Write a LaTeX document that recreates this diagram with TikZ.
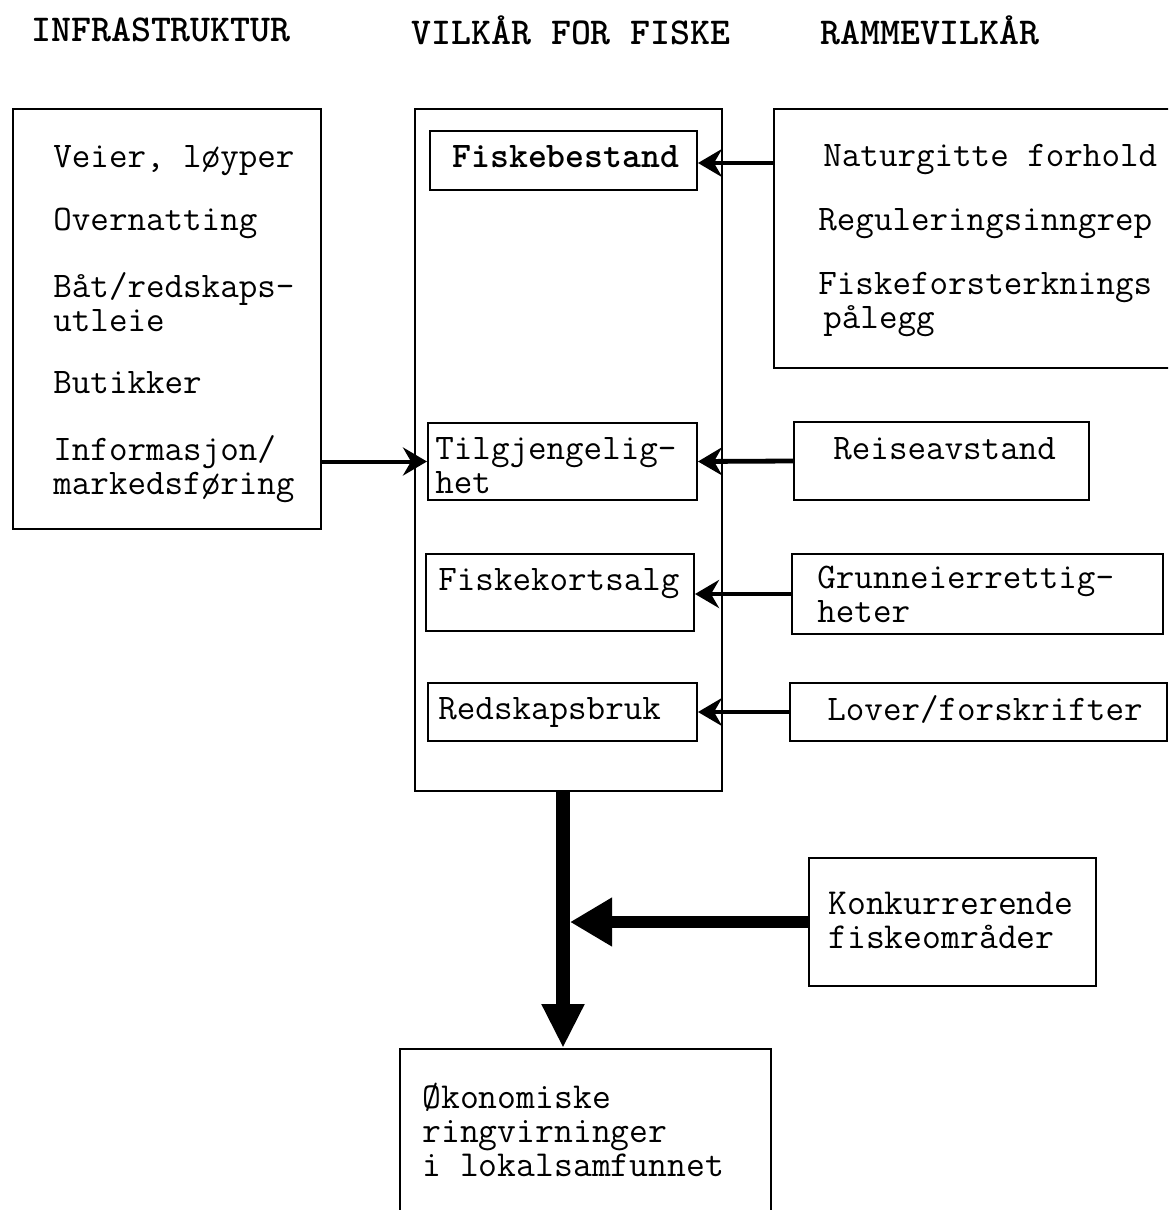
\documentclass[tikz,border=0pt]{standalone}
\usepackage{fontspec}
\usetikzlibrary{arrows.meta,positioning}
\tikzset{myframe/.style={
  draw=black,
  line width=1pt,
  anchor=north west,
  inner sep=0pt,
  }
}
\tikzset{mytext/.style={
  anchor=base west,
  inner sep=0pt,
  align=left,
  font=\ttfamily\fontsize{18}{17}\selectfont,
  }
}
\tikzset{mytext2/.style={
  anchor=base west,
  inner sep=0pt,
  align=left,
  font=\ttfamily\fontsize{18.3}{17}\selectfont,
  }
}
\tikzset{myhead/.style={
  inner sep=0pt,
  font=\ttfamily\bfseries\fontsize{19}{17}\selectfont,
  }
}
\tikzset{myarrow/.style={
  line width=2.4pt,
  -{Stealth[length=12pt,width=14pt,inset=4pt]},
  }
}
\tikzset{mybigarrow/.style={
  line width=7pt,
  -{Triangle[length=22pt,width=20pt]},
  }
}

\begin{document}
\begin{tikzpicture}[x=0.5pt,y=-0.5pt]
  \clip (0,0) rectangle (1168,1210);

  \node[myhead] (h1) at (161,30) {INFRASTRUKTUR};
  \node[myhead] (h2) at (571,30) {VILKÅR FOR FISKE};
  \node[myhead] (h3) at (930,30) {RAMMEVILKÅR};

  \node[myframe, minimum width=154pt, minimum height=210pt] (infra) at (12,108) {};
  \node[myframe, minimum width=153.5pt, minimum height=341pt] (vilk) at (414,108) {};
  \node[myframe, minimum width=215pt, minimum height=129.5pt] (ramme) at (773,108) {};

  \node[mytext] (i1) at (53,167) {Veier, løyper};
  \node[mytext] (i2) at (53,230) {Overnatting};
  \node[mytext] (i3) at (53,331) {Båt/redskaps-\\utleie};
  \node[mytext] (i5) at (53,393) {Butikker};
  \node[mytext] (i6) at (53,494) {Informasjon/\\markedsføring};

  \node[myframe, minimum width=133.5pt, minimum height=29.5pt] (fb) at (429,130) {};
  \node[mytext, font=\ttfamily\bfseries\fontsize{18}{17}\selectfont] (v1) at (452,167) {Fiskebestand};
  \node[myframe, minimum width=134.5pt, minimum height=38.5pt] (tg) at (427,422) {};
  \node[mytext] (v2) at (435,493) {Tilgjengelig-\\het};
  \node[myframe, minimum width=134pt, minimum height=38.5pt] (fk) at (425,553) {};
  \node[mytext] (v4) at (438,590) {Fiskekortsalg};
  \node[myframe, minimum width=134.5pt, minimum height=29pt] (rb) at (427,682) {};
  \node[mytext] (v5) at (438,719) {Redskapsbruk};

  \node[mytext] (r1) at (823,166) {Naturgitte forhold};
  \node[mytext] (r2) at (818,230) {Reguleringsinngrep};
  \node[mytext] (r3) at (818,328) {Fiskeforsterknings\\\hspace*{2.5pt}pålegg};

  \node[myframe, minimum width=147.5pt, minimum height=39pt] (ra) at (793,421) {};
  \node[mytext] (r5) at (833,459) {Reiseavstand};
  \node[myframe, minimum width=185.5pt, minimum height=40pt] (gr) at (791,553) {};
  \node[mytext] (r6) at (817,622) {Grunneierrettig-\\heter};
  \node[myframe, minimum width=188.5pt, minimum height=29pt] (lf) at (789,682) {};
  \node[mytext] (r8) at (827,720) {Lover/forskrifter};

  \node[myframe, minimum width=143.5pt, minimum height=64pt] (ko) at (808,857) {};
  \node[mytext2] (k1) at (828,948) {Konkurrerende\\fiskeområder};

  \node[myframe, minimum width=185.5pt, minimum height=110pt] (ok) at (399,1048) {};
  \node[mytext2] (o1) at (422,1176) {Økonomiske\\ringvirninger\\i lokalsamfunnet};

  \coordinate (jn) at (563,917);

  \draw[myarrow, line width=2pt] (infra.east |- tg.west) -- (tg.west);
  \draw[myarrow] (ramme.west |- 0,163) -- (fb.east |- 0,163);
  \draw[myarrow] (ra.west) -- (tg.east);
  \draw[myarrow] (gr.west) -- (fk.east |- gr.west);
  \draw[myarrow] (lf.west) -- (rb.east |- lf.west);
  \draw[mybigarrow] (vilk.south -| jn) -- (ok.north -| jn);
  \draw[mybigarrow, line width=6pt, -{Triangle[length=21pt,width=23pt]}, shorten >=3.5pt] (ko.west) -- (jn |- ko.west);
\end{tikzpicture}
\end{document}
